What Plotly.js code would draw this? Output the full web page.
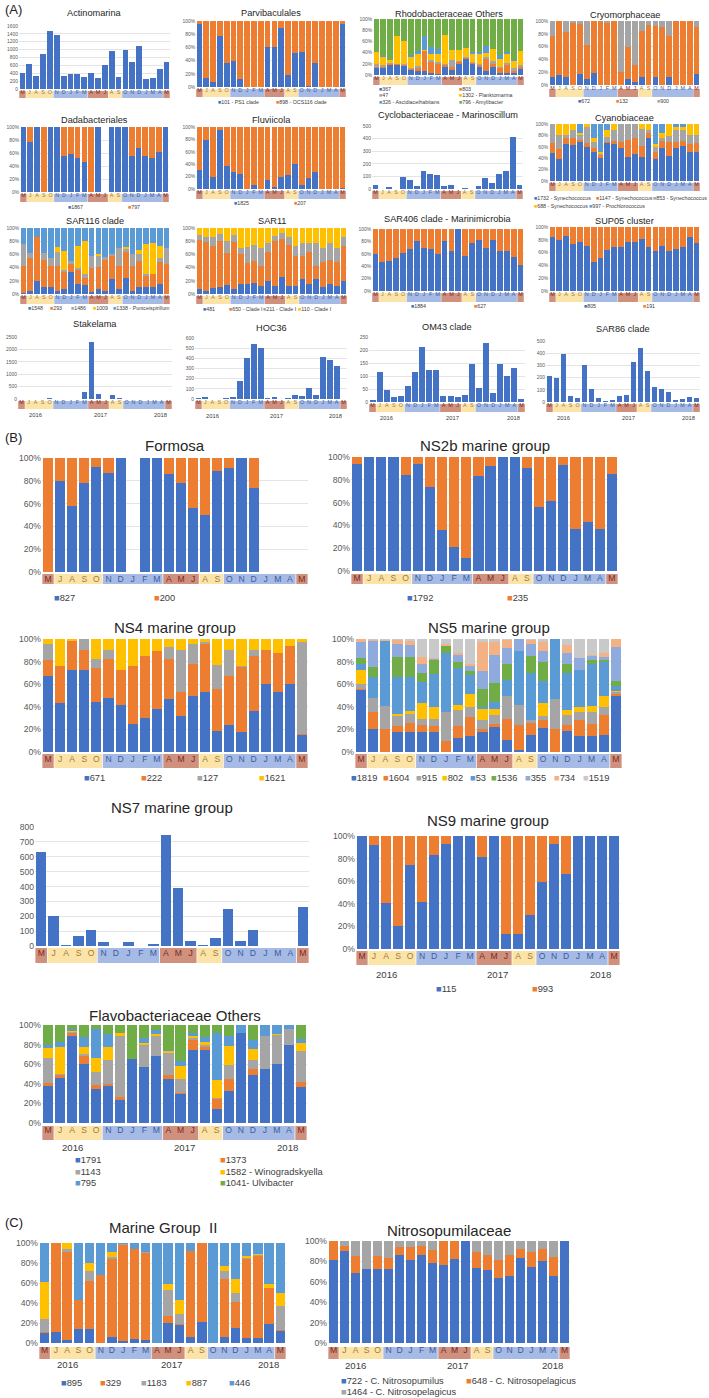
<!DOCTYPE html>
<html><head><meta charset="utf-8">
<script src="https://cdn.plot.ly/plotly-3.0.1.min.js"></script>
<style>html,body{margin:0;padding:0;background:#fff}#fig{width:709px;height:1398px}</style>
</head><body><div id="fig"></div>
<script>
// ---------- categories ----------
const MONTHS = ['M','J','A','S','O','N','D','J','F','M','A','M','J','A','S','O','N','D','J','M','A','M'];
const SEASON = ['r','y','y','y','y','b','b','b','b','b','r','r','r','y','y','b','b','b','b','b','b','r'];
const YEARS = ['2016','2017','2018'];
const YEAR_POS = [2, 11.3, 19.9];

// ---------- (A) data ----------
const actinomarina = [400,640,320,900,1480,1370,340,390,370,300,410,280,620,970,310,1000,690,1100,260,280,520,680];
const parvi_101 = [96,14,7,78,37,40,12,0,0,0,60,61,89,18,51,53,2,37,0,0,0,95];
const parvi_898 = [4,86,93,22,63,60,88,100,100,100,40,39,11,82,49,47,98,63,100,100,100,5];
const rhodo_367 = [12,13,17,17,16,9,8,7,4,2,14,9,20,28,20,14,8,15,4,4,3,11];
const rhodo_803 = [3,2,2,3,2,2,5,36,20,17,3,5,3,3,2,4,20,5,8,14,5,3];
const rhodo_47 = [4,3,3,0,2,2,3,0,3,4,3,12,2,2,2,2,4,5,2,3,5,4];
const rhodo_1302 = [22,14,5,50,40,20,22,2,10,15,52,19,20,15,14,17,8,21,14,17,12,24];
const rhodo_326 = [0,2,0,0,0,2,4,25,13,9,0,0,0,0,3,4,12,0,8,3,2,0];
const rhodo_796 = [59,66,73,30,40,65,58,30,50,53,28,55,55,52,59,59,48,54,64,59,73,58];
const cryo_672 = [12,15,12,0,17,10,19,0,0,0,0,9,5,12,0,13,0,13,0,0,0,17];
const cryo_132 = [64,85,71,97,79,52,81,100,97,100,21,51,27,73,93,79,90,64,100,100,100,74];
const cryo_900 = [24,0,17,3,4,38,0,0,3,0,79,40,68,15,7,8,10,23,0,0,0,9];
const dada_1867 = [100,77,100,0,100,100,56,59,53,46,0,100,0,100,100,100,55,68,55,53,61,100];
const dada_797 = [0,23,0,100,0,0,44,41,47,54,100,0,0,0,0,0,45,32,45,47,39,0];
const fluv_1825 = [30,79,20,95,37,27,25,0,6,0,14,4,19,22,41,7,17,27,0,0,0,2];
const fluv_207 = [70,21,80,5,63,73,75,100,94,100,86,96,81,78,59,93,83,73,100,100,100,98];
const marinoscillum = [35,2,12,3,95,75,22,140,120,110,22,35,0,8,3,25,85,45,118,140,410,30];
const cyano_1732 = [49,38,65,63,68,59,51,40,66,65,58,42,48,42,75,39,58,44,58,62,51,51];
const cyano_1147 = [18,19,10,12,4,8,7,5,2,5,10,30,27,20,10,12,12,25,10,8,14,15];
const cyano_853 = [33,23,5,15,8,28,10,3,10,20,32,28,25,30,5,9,5,10,22,20,15,14];
const cyano_688 = [0,20,20,10,5,5,8,3,12,10,0,0,0,8,10,5,10,21,5,5,20,20];
const cyano_997 = [0,0,0,0,15,0,24,49,10,0,0,0,0,0,0,35,15,0,5,5,0,0];
const sar116_1548 = [2,5,19,10,10,5,8,33,15,13,3,8,5,22,7,24,5,10,10,10,15,0];
const sar116_293 = [41,49,68,41,33,38,25,13,21,12,37,33,47,36,35,39,37,40,18,20,33,45];
const sar116_1486 = [33,8,0,11,12,20,3,4,4,5,18,17,4,2,28,5,18,10,2,0,7,25];
const sar116_1009 = [0,0,0,0,0,8,29,0,32,50,0,3,0,0,0,3,0,7,46,47,17,0];
const sar116_1338 = [24,38,13,38,45,29,35,50,28,20,42,39,44,40,30,29,40,33,24,23,28,30];
const sar11_481 = [7,4,9,10,14,7,15,15,16,12,20,12,26,12,12,22,15,22,10,15,12,19];
const sar11_650 = [75,75,63,71,48,72,45,32,34,31,44,68,57,63,46,36,48,20,38,37,36,54];
const sar11_211 = [8,8,14,10,18,11,10,24,25,27,14,8,10,11,15,20,15,36,22,25,22,13];
const sar11_110 = [10,13,14,9,20,10,30,29,25,30,22,12,7,14,27,22,22,22,30,23,30,14];
const sar406_1884 = [59,46,48,53,62,67,80,69,67,59,80,64,100,57,77,82,69,82,65,65,55,42];
const sar406_627 = [41,54,52,47,38,33,20,31,33,41,20,36,0,43,23,18,31,18,35,35,45,58];
const sup05_805 = [84,80,86,73,77,70,46,52,64,68,68,76,77,82,69,63,71,63,66,68,84,75];
const sup05_191 = [16,20,14,27,23,30,54,48,36,32,32,24,23,18,31,37,29,37,34,32,16,25];
const stakelama = [20,0,10,15,30,10,0,0,0,300,2280,190,0,180,40,0,0,0,0,0,10,0];
const hoc36 = [5,20,2,0,5,20,180,400,545,500,10,20,0,10,35,30,105,40,415,385,325,0];
const om43 = [8,115,48,18,22,60,115,212,125,123,22,24,20,28,148,55,228,35,145,100,132,10];
const sar86 = [210,195,390,52,30,300,105,35,8,18,50,58,330,445,258,120,108,80,15,28,45,30];

// ---------- (B) data ----------
const formosa_827 = [0,80,58,78,92,87,100,0,100,100,86,78,56,50,89,91,100,74,0,0,0,0];
const formosa_200 = [100,20,42,22,8,13,0,0,0,0,14,22,44,50,11,9,0,26,0,0,0,0];
const ns2b_1792 = [94,100,100,100,84,94,74,36,21,11,83,92,100,100,90,56,61,93,37,43,37,85];
const ns2b_235 = [6,0,0,0,16,6,26,64,79,89,17,8,0,0,10,44,39,7,63,57,63,15];
const ns4_671 = [67,43,73,73,44,48,42,25,30,38,47,32,50,53,19,24,18,36,60,53,60,15];
const ns4_222 = [14,33,25,17,30,34,31,51,55,51,35,21,28,43,37,43,57,49,30,35,34,1];
const ns4_127 = [15,0,0,10,8,8,0,0,0,0,11,37,18,1,21,23,1,5,0,0,0,81];
const ns4_1621 = [4,24,2,0,18,10,27,24,15,11,7,10,4,3,23,10,24,10,10,12,6,3];
const ns5_1819 = [55,20,0,18,18,18,18,0,12,14,18,22,11,2,15,21,0,19,14,14,15,50];
const ns5_1604 = [1,15,20,5,8,6,5,10,11,17,2,3,18,22,11,7,20,5,14,11,18,1];
const ns5_915 = [4,13,21,9,8,5,6,25,14,9,8,8,21,18,2,4,27,9,7,10,7,2];
const ns5_802 = [13,0,0,2,2,14,11,0,5,11,10,5,0,0,0,11,0,4,5,6,10,1];
const ns5_53 = [5,18,57,32,30,19,29,53,32,17,2,6,14,47,42,20,53,33,33,37,30,4];
const ns5_1536 = [5,9,0,18,18,8,12,6,6,4,16,17,14,0,15,17,0,8,0,3,1,5];
const ns5_355 = [14,23,0,12,11,8,1,0,6,4,16,25,14,11,11,9,0,10,10,4,3,30];
const ns5_734 = [3,1,1,3,3,6,1,2,2,2,25,11,7,0,3,8,0,7,0,1,4,7];
const ns5_1519 = [0,1,1,1,2,16,17,4,12,22,3,3,1,0,1,3,0,5,17,14,12,0];
const ns7 = [630,200,8,65,110,30,0,25,0,12,745,390,35,5,52,252,35,110,0,0,0,265];
const ns9_115 = [100,92,41,20,74,42,83,93,100,100,81,100,13,13,30,59,93,66,100,100,100,100];
const ns9_993 = [0,8,59,80,26,58,17,7,0,0,19,0,87,87,70,41,7,34,0,0,0,0];
const flavo_1791 = [38,46,89,60,35,38,23,65,57,68,45,30,74,75,14,33,92,49,55,60,80,37];
const flavo_1373 = [3,3,3,8,4,2,4,0,0,0,4,1,11,3,10,12,0,6,0,0,0,5];
const flavo_1143 = [25,1,1,2,13,24,62,0,23,21,22,14,2,2,2,14,0,9,34,30,16,31];
const flavo_1582 = [11,28,1,8,14,14,3,0,2,2,2,13,2,3,18,20,0,12,0,1,0,9];
const flavo_795 = [3,5,2,10,30,13,0,0,5,4,2,5,3,5,48,10,8,9,11,9,4,4];
const flavo_1041 = [20,17,4,12,4,9,8,35,13,5,25,37,8,12,8,11,0,15,0,0,0,14];

// ---------- (C) data ----------
const mg2_895 = [10,11,3,14,14,0,6,2,4,3,0,20,18,6,21,0,6,15,5,5,19,12];
const mg2_329 = [1,89,88,29,48,68,78,96,90,87,0,7,1,86,79,0,58,26,79,82,36,1];
const mg2_1183 = [13,0,3,0,10,0,2,1,0,1,0,26,10,0,0,0,8,9,1,1,0,24];
const mg2_887 = [37,0,6,0,8,0,5,0,0,0,0,6,14,0,0,0,5,14,2,1,4,13];
const mg2_446 = [39,0,0,57,20,32,9,1,6,9,100,41,57,8,0,100,23,36,13,11,41,50];
const nitro_722 = [81,90,69,73,73,73,86,81,86,78,76,82,100,74,72,64,66,83,75,80,66,100];
const nitro_648 = [19,5,16,0,12,10,8,13,9,13,24,18,0,15,14,17,20,9,14,12,18,0];
const nitro_1464 = [0,5,15,27,15,17,6,6,5,9,0,0,0,11,14,19,14,8,11,8,16,0];

// ---------- styling ----------
const C = {blue:'#4472C4', orange:'#ED7D31', gray:'#A5A5A5', yellow:'#FFC000', lblue:'#5B9BD5',
           green:'#70AD47', lav:'#8FAADC', salmon:'#F4B183', lgray:'#C9C9C9'};
const BAND_BG = {r:'#D0907E', y:'#FCE3A8', b:'#A5BAE4'};
const BAND_TX = {r:'#7A2A1A', y:'#9C7C38', b:'#3D5A9C'};
const FONT = 'Liberation Sans, Arial, Helvetica, sans-serif';
const SZ = {
  s:{title:9.2, tick:4.9, band:5.4, legend:5.3, year:5.8},
  l:{title:15, tick:8.6, band:8.6, legend:9.3, year:9.6}
};

const P = [
 {t:'Actinomarina', x:[19,170], y:[26,89], band:[91,98], ty:13, abs:[1600,200], s:'s',
  ser:[[actinomarina,C.blue]]},
 {t:'Parvibaculales', x:[196,346], y:[21,87], band:[89,97], ty:13, s:'s',
  ser:[[parvi_101,C.blue],[parvi_898,C.orange]],
  leg:[['101 - PS1 clade',C.blue,216,102],['898 - OCS116 clade',C.orange,274,102]]},
 {t:'Rhodobacteraceae Others', x:[373,524], y:[19,75], band:[77,85], ty:14, s:'s',
  ser:[[rhodo_367,C.blue],[rhodo_803,C.orange],[rhodo_47,C.gray],[rhodo_1302,C.yellow],[rhodo_326,C.lblue],[rhodo_796,C.green]],
  leg:[['367',C.blue,377,89],['803',C.orange,457,89],['47',C.gray,377,95.5],['1302 - Planktomarina',C.yellow,457,95.5],
       ['326 - Ascidiaceihabitans',C.lblue,377,102],['796 - Amylibacter',C.green,457,102]]},
 {t:'Cryomorphaceae', x:[549,700], y:[21,85], band:[89,97], ty:15, s:'s',
  ser:[[cryo_672,C.blue],[cryo_132,C.orange],[cryo_900,C.gray]],
  leg:[['672',C.blue,576,101],['132',C.orange,614,101],['900',C.gray,655,101]]},
 {t:'Dadabacteriales', x:[20,169], y:[127,192], band:[194,202], ty:120, s:'s',
  ser:[[dada_1867,C.blue],[dada_797,C.orange]],
  leg:[['1867',C.blue,66,207],['797',C.orange,126,207]]},
 {t:'Fluviicola', x:[196,346], y:[127,189], band:[191,199], ty:120, s:'s',
  ser:[[fluv_1825,C.blue],[fluv_207,C.orange]],
  leg:[['1825',C.blue,232,203],['207',C.orange,292,203]]},
 {t:'Cyclobacteriaceae - Marinoscillum', x:[372,523], y:[126,189], band:[191,199], ty:115, abs:[500,100], s:'s',
  ser:[[marinoscillum,C.blue]]},
 {t:'Cyanobiaceae', x:[549,700], y:[124,181], band:[183,191], ty:118, s:'s',
  ser:[[cyano_1732,C.blue],[cyano_1147,C.orange],[cyano_853,C.gray],[cyano_688,C.yellow],[cyano_997,C.lblue]],
  leg:[['1732 - Synechococcus',C.blue,532,198],['1147 - Synechococcus',C.orange,594,198],['853 - Synechococcus',C.gray,651,198],
       ['688 - Synechococcus',C.yellow,532,206],['997 - Prochlorococcus',C.lblue,587,206]]},
 {t:'SAR116 clade', x:[20,170], y:[228,294], band:[296,304], ty:221, s:'s',
  ser:[[sar116_1548,C.blue],[sar116_293,C.orange],[sar116_1486,C.gray],[sar116_1009,C.yellow],[sar116_1338,C.lblue]],
  leg:[['1548',C.blue,26,308],['293',C.orange,48,308],['1486',C.gray,69,308],['1009',C.yellow,91,308],['1338 - Puniceispirillum',C.lblue,111,308]]},
 {t:'SAR11', x:[196,347], y:[228,294], band:[296,304], ty:221, s:'s',
  ser:[[sar11_481,C.blue],[sar11_650,C.orange],[sar11_211,C.gray],[sar11_110,C.yellow]],
  leg:[['481',C.blue,201,309],['650 - Clade I',C.orange,227,309],['211 - Clade I',C.gray,261,309],['110 - Clade I',C.yellow,296,309]]},
 {t:'SAR406 clade - Marinimicrobia', x:[372,524], y:[229,291], band:[293,302], ty:219, s:'s',
  ser:[[sar406_1884,C.blue],[sar406_627,C.orange]],
  leg:[['1884',C.blue,409,306],['627',C.orange,472,306]]},
 {t:'SUP05 cluster', x:[549,700], y:[227,291], band:[293,302], ty:221, s:'s',
  ser:[[sup05_805,C.blue],[sup05_191,C.orange]],
  leg:[['805',C.blue,582,306],['191',C.orange,641,306]]},
 {t:'Stakelama', x:[18,172], y:[337,399], band:[401,409], ty:324, abs:[2500,500], s:'s', yr:415,
  ser:[[stakelama,C.blue]]},
 {t:'HOC36', x:[195,347], y:[338,399], band:[401,409], ty:328, abs:[600,100], s:'s', yr:416,
  ser:[[hoc36,C.blue]]},
 {t:'OM43 clade', x:[369,525], y:[337,402], band:[404,412], ty:327, abs:[250,50], s:'s', yr:418,
  ser:[[om43,C.blue]]},
 {t:'SAR86 clade', x:[546,700], y:[341,402], band:[404,412], ty:329, abs:[500,100], s:'s', yr:418,
  ser:[[sar86,C.blue]]},
 // (B)
 {t:'Formosa', x:[42,308], y:[458,572], band:[574,584], ty:446, s:'l',
  ser:[[formosa_827,C.blue],[formosa_200,C.orange]],
  leg:[['827',C.blue,52,598],['200',C.orange,152,598]]},
 {t:'NS2b marine group', x:[351,618], y:[457,571], band:[574,584], ty:446, s:'l',
  ser:[[ns2b_1792,C.blue],[ns2b_235,C.orange]],
  leg:[['1792',C.blue,405,598],['235',C.orange,505,598]]},
 {t:'NS4 marine group', x:[42,308], y:[639,752], band:[754,768], ty:627, s:'l',
  ser:[[ns4_671,C.blue],[ns4_222,C.orange],[ns4_127,C.gray],[ns4_1621,C.yellow]],
  leg:[['671',C.blue,82,778],['222',C.orange,139,778],['127',C.gray,195,778],['1621',C.yellow,257,778]]},
 {t:'NS5 marine group', x:[355,622], y:[639,752], band:[754,768], ty:627, s:'l',
  ser:[[ns5_1819,C.blue],[ns5_1604,C.orange],[ns5_915,C.gray],[ns5_802,C.yellow],[ns5_53,C.lblue],
       [ns5_1536,C.green],[ns5_355,C.lav],[ns5_734,C.salmon],[ns5_1519,C.lgray]],
  leg:[['1819',C.blue,349,778],['1604',C.orange,381,778],['915',C.gray,414,778],['802',C.yellow,440,778],['53',C.lblue,468,778],
       ['1536',C.green,489,778],['355',C.lav,523,778],['734',C.salmon,552,778],['1519',C.lgray,581,778]]},
 {t:'NS7 marine group', x:[35,309], y:[827,946], band:[948,963], ty:807, abs:[800,100], s:'l',
  ser:[[ns7,C.blue]]},
 {t:'NS9 marine group', x:[356,620], y:[836,949], band:[951,965], ty:820, s:'l', yr:974,
  ser:[[ns9_115,C.blue],[ns9_993,C.orange]],
  leg:[['115',C.blue,434,989],['993',C.orange,530,989]]},
 {t:'Flavobacteriaceae Others', x:[42,307], y:[1025,1123], band:[1126,1140], ty:1015, s:'l', yr:1147,
  ser:[[flavo_1791,C.blue],[flavo_1373,C.orange],[flavo_1143,C.gray],[flavo_1582,C.yellow],[flavo_795,C.lblue],[flavo_1041,C.green]],
  leg:[['1791',C.blue,73,1160],['1373',C.orange,218,1160],['1143',C.gray,73,1171.5],['1582 - Winogradskyella',C.yellow,218,1171.5],
       ['795',C.lblue,73,1183],['1041- Ulvibacter',C.green,218,1183]]},
 // (C)
 {t:'Marine Group  II', x:[39,286], y:[1243,1343], band:[1347,1359], ty:1227, s:'l', yr:1364,
  ser:[[mg2_895,C.blue],[mg2_329,C.orange],[mg2_1183,C.gray],[mg2_887,C.yellow],[mg2_446,C.lblue]],
  leg:[['895',C.blue,59,1383],['329',C.orange,98,1383],['1183',C.gray,139,1383],['887',C.yellow,184,1383],['446',C.lblue,227,1383]]},
 {t:'Nitrosopumilaceae', x:[328,570], y:[1241,1343], band:[1347,1359], ty:1230, s:'l', yr:1365,
  ser:[[nitro_722,C.blue],[nitro_648,C.orange],[nitro_1464,C.gray]],
  leg:[['722 - C. Nitrosopumilus',C.blue,339,1381],['648 - C. Nitrosopelagicus',C.orange,464,1381],['1464 - C. Nitrosopelagicus',C.gray,339,1392]]}
];

const W = 709, H = 1398;
const px = v => v / W, py = v => 1 - v / H;
const IDX = MONTHS.map((m, k) => k);

const data = [], shapes = [], annotations = [];
const layout = {
  width: W, height: H, margin:{l:0,r:0,t:0,b:0}, paper_bgcolor:'#fff', plot_bgcolor:'rgba(0,0,0,0)',
  barmode:'stack', bargap:0.16, showlegend:false, font:{family:FONT, color:'#404040'},
  shapes, annotations
};

// season groups
const groups = [];
SEASON.forEach((s, k) => {
  if (groups.length && groups[groups.length-1].s === s) groups[groups.length-1].e = k;
  else groups.push({s, b:k, e:k});
});

P.forEach((p, i) => {
  const n = i + 1, xa = 'x' + (n === 1 ? '' : n), ya = 'y' + (n === 1 ? '' : n);
  const f = SZ[p.s];
  p.ser.forEach(([vals, col]) => {
    data.push({type:'bar', x:IDX, y:vals, xaxis:xa, yaxis:ya, marker:{color:col, line:{width:0}},
               hoverinfo:'skip', showlegend:false});
  });
  layout['xaxis' + (n === 1 ? '' : n)] = {
    domain:[px(p.x[0]), px(p.x[1])], anchor:ya, range:[-0.5, 21.5], fixedrange:true,
    tickmode:'array', tickvals:IDX,
    ticktext:MONTHS.map((m, k) => `<span style="color:${BAND_TX[SEASON[k]]}">${m}</span>`),
    tickangle:0, ticks:'', showgrid:false, zeroline:false, showline:false,
    tickfont:{size:f.band, family:FONT}, ticklabelstandoff: p.s === 's' ? -1 : 0
  };
  const yax = {
    domain:[py(p.y[1]), py(p.y[0])], anchor:xa, fixedrange:true, zeroline:false, showline:false,
    gridcolor:'#D9D9D9', gridwidth:0.7, ticks:'', tickfont:{size:f.tick, family:FONT, color:'#595959'},
    tick0:0
  };
  if (p.abs) { yax.range = [0, p.abs[0]]; yax.dtick = p.abs[1]; }
  else { yax.range = [0, 100]; yax.dtick = 20; yax.ticksuffix = '%'; }
  layout['yaxis' + (n === 1 ? '' : n)] = yax;

  // season band
  groups.forEach(g => {
    shapes.push({type:'rect', xref:xa, yref:'paper', x0:g.b - 0.47, x1:g.e + 0.47,
                 y0:py(p.band[1]), y1:py(p.band[0]), fillcolor:BAND_BG[g.s], line:{width:0}, layer:'below'});
  });
  // title
  annotations.push({text:p.t, xref:'paper', yref:'paper', x:px((p.x[0] + p.x[1]) / 2), y:py(p.ty),
                    xanchor:'center', yanchor:'middle', showarrow:false,
                    font:{size:f.title, family:FONT, color:'#262626'}});
  // years
  if (p.yr) {
    YEARS.forEach((yt, k) => annotations.push({text:yt, xref:xa, yref:'paper', x:YEAR_POS[k], y:py(p.yr),
      xanchor:'center', yanchor:'middle', showarrow:false, font:{size:f.year, family:FONT, color:'#404040'}}));
  }
  // legend
  (p.leg || []).forEach(([lab, col, lx, ly]) => {
    annotations.push({text:`<span style="color:${col}">■</span>${lab}`, xref:'paper', yref:'paper',
      x:px(lx), y:py(ly), xanchor:'left', yanchor:'middle', showarrow:false,
      font:{size:f.legend, family:FONT, color:'#404040'}});
  });
});

// section labels
[['(A)', 9], ['(B)', 437], ['(C)', 1222]].forEach(([t, y]) => annotations.push({
  text:t, xref:'paper', yref:'paper', x:px(3), y:py(y), xanchor:'left', yanchor:'middle', showarrow:false,
  font:{size:13, family:FONT, color:'#222'}}));

Plotly.newPlot('fig', data, layout, {staticPlot:true, displayModeBar:false});
</script>
</body></html>
